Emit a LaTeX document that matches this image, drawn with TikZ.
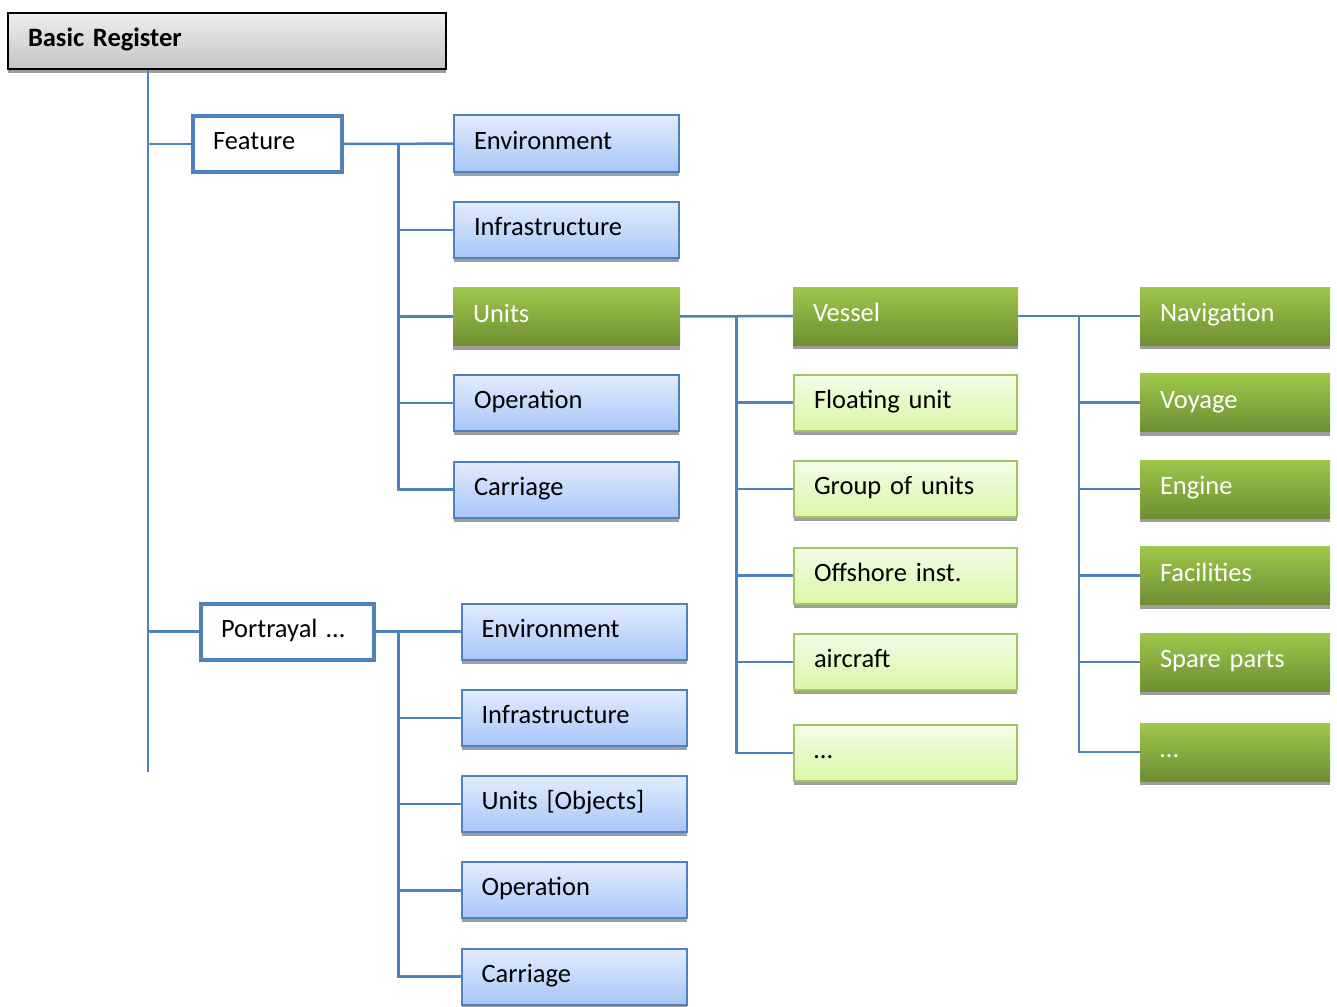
\documentclass[tikz,border=0pt]{standalone}
\usepackage{fontspec}
\setmainfont{Carlito}
\usetikzlibrary{shapes,arrows,shadows,calc}
\definecolor{lineblue}{HTML}{4F81BD}
\definecolor{grayTop}{HTML}{EEEEEE}
\definecolor{grayBot}{HTML}{C4C4C4}
\definecolor{blueTop}{HTML}{E2ECFD}
\definecolor{blueBot}{HTML}{A8C6F8}
\definecolor{lgTop}{HTML}{F3FDE8}
\definecolor{lgBot}{HTML}{D8F7A6}
\definecolor{lgBorder}{HTML}{A6C462}
\definecolor{greenTop}{HTML}{9FC74B}
\definecolor{greenBot}{HTML}{6D8F32}
\tikzstyle{base} = [rectangle, inner xsep=20pt, text height=1.1em, text depth=0em,
    align=left, font=\fontsize{26.5}{30}\selectfont]
\tikzstyle{shade} = [drop shadow={shadow xshift=0pt, shadow yshift=-4pt, fill=black!38, opacity=1}]
\tikzstyle{rootblock} = [base, shade, draw=black, line width=1.5pt, top color=grayTop,
    bottom color=grayBot, text width=398pt, minimum height=56pt, font=\fontsize{26.5}{30}\selectfont\bfseries]
\tikzstyle{topic} = [base, draw=lineblue, line width=4pt, fill=white, minimum height=56pt]
\tikzstyle{blueblock} = [base, shade, draw=lineblue, line width=2pt, top color=blueTop,
    bottom color=blueBot, text width=185pt, minimum height=56pt]
\tikzstyle{lightblock} = [base, shade, draw=lgBorder, line width=2pt, top color=lgTop,
    bottom color=lgBot, text width=183pt, minimum height=56pt]
\tikzstyle{greenblock} = [base, shade, top color=greenTop, bottom color=greenBot,
    text=white, text width=150pt, minimum height=58pt]
\tikzstyle{line} = [draw=lineblue, line width=2.5pt]

\begin{document}
\begin{tikzpicture}[x=1pt, y=-1pt]
    \useasboundingbox (0,0) rectangle (1337,1006);
    % Place nodes
    \node [rootblock] (basic) at (227,41) {Basic Register};
    \node [topic, text width=109pt] (feature) at (267.5,144) {Feature};
    \node [topic, text width=133pt] (portrayal) at (287.5,631.5) {Portrayal …};
    % feature column
    \node [blueblock] (env1) at (566.5,143.5) {Environment};
    \node [blueblock, below of=env1, node distance=86.5pt] (infra1) {Infrastructure};
    \node [greenblock, text width=187pt, below of=infra1, node distance=86.5pt] (units1) {Units};
    \node [blueblock, below of=units1, node distance=86.5pt] (oper1) {Operation};
    \node [blueblock, below of=oper1, node distance=86.5pt] (carr1) {Carriage};
    % portrayal column
    \node [blueblock] (env2) at (574,631.5) {Environment};
    \node [blueblock, below of=env2, node distance=86.3pt] (infra2) {Infrastructure};
    \node [blueblock, below of=infra2, node distance=86.3pt] (units2) {Units [Objects]};
    \node [blueblock, below of=units2, node distance=86.3pt] (oper2) {Operation};
    \node [blueblock, below of=oper2, node distance=86.3pt] (carr2) {Carriage};
    % units column
    \node [greenblock, text width=185pt] (vessel) at (905.5,316) {Vessel};
    \node [lightblock, below of=vessel, node distance=86.5pt] (floatu) {Floating unit};
    \node [lightblock, below of=floatu, node distance=86.5pt] (group) {Group of units};
    \node [lightblock, below of=group, node distance=86.5pt] (offshore) {Offshore inst.};
    \node [lightblock, below of=offshore, node distance=86.5pt] (aircraft) {aircraft};
    \node [lightblock, below of=aircraft, node distance=91pt] (udots) {…};
    % vessel column
    \node [greenblock] (nav) at (1235,316) {Navigation};
    \node [greenblock, below of=nav, node distance=86.5pt] (voyage) {Voyage};
    \node [greenblock, below of=voyage, node distance=86.5pt] (engine) {Engine};
    \node [greenblock, below of=engine, node distance=86.5pt] (facil) {Facilities};
    \node [greenblock, below of=facil, node distance=86.5pt] (spare) {Spare parts};
    \node [greenblock, below of=spare, node distance=90pt] (vdots) {…};
    % bus points
    \coordinate (trunk) at (148,70);
    \coordinate (trunkend) at (148,772);
    \coordinate (fbus) at ($(feature.east)!0.5!(env1.west)$);
    \coordinate (pbus) at (fbus |- portrayal.east);
    \coordinate (ubus) at ($(units1.east)!0.5!(vessel.west)$);
    \coordinate (vbus) at ($(vessel.east)!0.5!(nav.west)$);
    % Draw edges
    \path [line] (trunk) -- (trunkend);
    \path [line] (trunk |- feature.west) -- (feature.west);
    \path [line] (trunk |- portrayal.west) -- (portrayal.west);
    \path [line] (feature) -- (env1);
    \foreach \n in {infra1,units1,oper1,carr1}
        \path [line] (fbus) |- (\n.west);
    \path [line] (portrayal) -- (env2);
    \foreach \n in {infra2,units2,oper2,carr2}
        \path [line] (pbus) |- (\n.west);
    \path [line] (units1) -- (vessel);
    \foreach \n in {floatu,group,offshore,aircraft,udots}
        \path [line] (ubus) |- (\n.west);
    \path [line] (vessel) -- (nav);
    \foreach \n in {voyage,engine,facil,spare,vdots}
        \path [line] (vbus) |- (\n.west);
\end{tikzpicture}
\end{document}
